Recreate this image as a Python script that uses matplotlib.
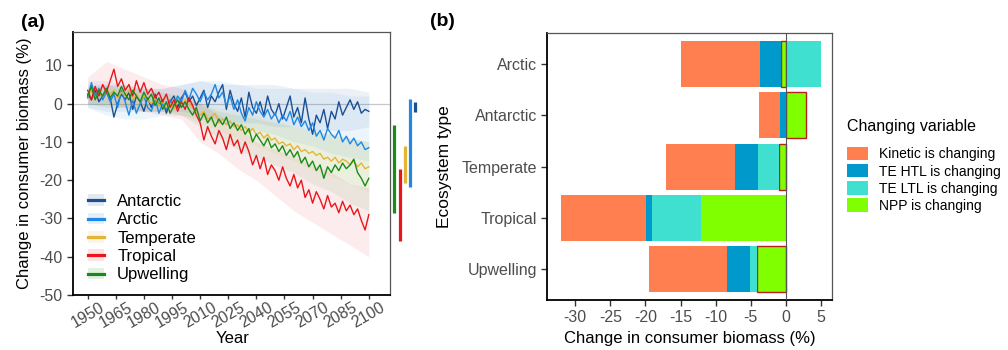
import numpy as np
import matplotlib
matplotlib.use("Agg")
import matplotlib.pyplot as plt
from matplotlib.lines import Line2D
from matplotlib.patches import Patch

plt.rcParams['font.family'] = ['Liberation Sans', 'DejaVu Sans']
plt.rcParams['axes.unicode_minus'] = False

# ---- panel (a) data: yearly series sampled every 2 years, 1950-2100
years = np.arange(1950, 2101, 2)
antarctic = [2.5, 1.0, 3.5, 0.5, 2.0, 4.0, 1.5, -3.5, 0.0, 2.5,
             1.0, 3.0, -1.5, 2.0, 0.5, -2.0, 1.5, -1.0, 2.5, -0.5,
             1.0, -2.5, 0.5, 2.0, -1.0, 1.5, 3.0, 0.5, 2.0, -0.5,
             1.5, 3.5, -1.0, 2.0, 0.5, 3.0, 5.0, -1.5, 3.5, 0.0,
             -2.0, 1.5, -3.5, 3.0, -1.0, -2.5, 0.5, -3.0, 2.0, -1.5,
             -3.0, 0.0, -4.0, -1.0, 2.0, -3.5, -1.0, -5.0, 1.5, -4.0,
             -8.0, -3.0, -5.0, -1.5, -6.5, -2.0, -4.0, 0.5, -3.0, -1.0,
             1.0, -1.5, 0.5, -2.5, -1.5, -2.0]
arctic = [1.5, 5.5, 2.0, 4.0, 1.0, 3.0, 0.5, 2.5, -1.0, 3.5,
          0.5, -3.0, 1.0, -2.5, 0.0, 2.0, -1.0, -2.0, 1.5, -2.5,
          0.0, -1.5, 1.0, -0.5, 2.0, 0.5, 3.5, 1.0, 4.0, 2.5,
          0.5, 3.0, 1.0, 2.5, 5.0, 1.5, 3.0, -0.5, 2.0, -1.5,
          1.0, -2.5, -4.5, -1.0, -3.0, 0.5, -2.0, -3.5, -1.5, -4.0,
          -2.5, -5.0, -3.0, -4.5, -2.0, -5.5, -3.5, -6.0, -4.5, -7.0,
          -5.0, -8.5, -7.0, -9.5, -6.5, -8.0, -9.0, -7.0, -10.0, -8.5,
          -10.5, -9.0, -11.0, -10.0, -12.0, -11.5]
temperate = [2.0, 3.5, 1.5, 3.0, 2.0, 4.0, 2.5, 3.5, 1.5, 3.0,
             2.0, 3.5, 1.0, 2.5, 0.5, 2.0, 1.0, 0.0, 1.5, -0.5,
             0.5, -1.0, 0.0, -1.5, 0.5, -0.5, 1.0, 0.0, -1.0, -2.0,
             -3.0, -2.0, -4.0, -3.5, -2.5, -5.0, -4.0, -5.5, -4.5, -6.0,
             -5.5, -7.0, -6.0, -7.5, -6.5, -8.0, -7.5, -9.0, -8.0, -9.5,
             -9.0, -10.5, -10.0, -11.0, -10.5, -12.0, -11.0, -12.5, -12.0, -13.0,
             -12.5, -13.5, -13.0, -14.5, -14.0, -15.0, -14.0, -15.5, -14.5, -15.0,
             -16.0, -15.0, -16.5, -15.5, -17.0, -16.5]
tropical = [3.5, 1.0, 4.5, 2.0, 5.0, 3.0, 6.0, 9.0, 4.5, 6.5,
            3.5, 5.0, 2.0, 6.0, 3.0, 5.5, 2.5, 4.0, 1.5, 3.0,
            0.5, 2.5, -1.0, 1.0, -2.0, 0.5, -1.5, 1.5, -0.5, -3.0,
            -5.0, -9.5, -6.0, -8.5, -10.5, -7.0, -9.0, -12.0, -8.0, -11.0,
            -9.5, -13.0, -10.0, -12.5, -16.0, -13.5, -17.0, -14.0, -18.5, -16.0,
            -17.5, -20.0, -16.5, -19.5, -21.5, -18.5, -22.0, -20.0, -24.5, -22.5,
            -26.0, -23.0, -25.0, -27.5, -24.0, -27.0, -26.0, -28.5, -25.5, -28.0,
            -26.5, -29.0, -27.5, -30.5, -33.0, -29.0]
upwelling = [2.0, 4.5, 1.0, 3.5, 2.0, 4.0, 1.5, 3.0, 2.0, 4.5,
             2.5, 1.0, 3.5, 2.0, 0.5, 3.0, 1.0, 2.5, -0.5, 1.5,
             -1.5, 0.5, -2.5, -0.5, 1.0, -1.0, 0.5, -1.5, -3.0, -1.0,
             -4.5, -2.5, -5.0, -3.5, -6.0, -4.0, -5.5, -3.5, -6.5, -5.0,
             -7.0, -5.5, -8.0, -6.5, -10.0, -8.0, -9.5, -11.0, -9.0, -11.5,
             -10.5, -12.5, -11.0, -13.5, -12.0, -14.0, -12.5, -15.5, -14.0, -16.5,
             -15.0, -17.5, -16.0, -19.5, -16.5, -18.0, -16.0, -17.5, -15.5, -17.0,
             -16.0, -14.5, -18.0, -19.5, -21.5, -19.5]

# uncertainty ribbons, every 10 years
ribbon_years = np.arange(1950, 2101, 10)
antarctic_lo = [-1, -2, -2, -2, -2, -2, -3, -4, -5, -5, -6, -6, -7, -7, -7, -6]
antarctic_hi = [5, 5, 4, 4, 4, 5, 6, 5, 5, 5, 5, 4, 4, 4, 4, 3]
arctic_lo = [-1, -3, -4, -4, -3, -3, -4, -5, -6, -7, -8, -10, -11, -13, -14, -15]
arctic_hi = [6, 6, 5, 4, 4, 5, 6, 6, 5, 4, 4, 4, 3, 3, 2, 2]
temperate_lo = [0, 0, -1, -2, -2, -3, -5, -7, -9, -11, -13, -15, -17, -19, -21, -23]
temperate_hi = [4, 4, 4, 3, 2, 2, 0, -1, -2, -3, -4, -6, -7, -8, -9, -10]
tropical_lo = [0, 0, -1, -2, -3, -4, -10, -13, -17, -20, -24, -28, -31, -34, -37, -40]
tropical_hi = [7, 11, 9, 7, 5, 4, 0, -3, -6, -10, -12, -14, -16, -18, -21, -22]
upwelling_lo = [0, -1, -1, -2, -2, -3, -6, -9, -12, -14, -16, -18, -21, -23, -26, -28]
upwelling_hi = [4, 5, 5, 4, 3, 2, 0, -2, -3, -4, -5, -6, -7, -8, -9, -10]

# range bars to the right of panel (a)
range_names = ['Upwelling', 'Tropical', 'Temperate', 'Arctic', 'Antarctic']
range_lo = [-28.6, -36.0, -20.6, -21.8, -2.1]
range_hi = [-5.7, -17.1, -11.0, 1.3, 0.5]

# ---- panel (b) data
ecosystems = ['Arctic', 'Antarctic', 'Temperate', 'Tropical', 'Upwelling']
kinetic = [-11.3, -2.95, -9.75, -12.1, -11.15]
te_htl = [-2.95, -0.85, -3.25, -0.85, -3.25]
te_ltl = [4.93, 0.0, -3.05, -7.0, -1.0]
npp = [-0.75, 2.8, -1.0, -12.1, -4.1]
npp_outlined = [True, True, True, False, True]
var_labels = ['Kinetic is changing', 'TE HTL is changing', 'TE LTL is changing', 'NPP is changing']

colors = {'Antarctic': '#1B4F93', 'Arctic': '#1E88E5', 'Temperate': '#E6B435',
          'Tropical': '#E8161B', 'Upwelling': '#1A8A1A'}
var_colors = ['#FF7F50', '#0099CC', '#40E0D0', '#7FFF00']
grey_txt = '#4D4D4D'

fig = plt.figure(figsize=(10.08, 3.5), dpi=100)
ax1 = fig.add_axes([0.0721, 0.157, 0.3148, 0.7524])
ax2 = fig.add_axes([0.543, 0.1429, 0.2821, 0.762])

series = [('Antarctic', antarctic, antarctic_lo, antarctic_hi),
          ('Arctic', arctic, arctic_lo, arctic_hi),
          ('Temperate', temperate, temperate_lo, temperate_hi),
          ('Tropical', tropical, tropical_lo, tropical_hi),
          ('Upwelling', upwelling, upwelling_lo, upwelling_hi)]

ax1.axhline(0, color='#C8C8C8', lw=0.9, zorder=1)
for name, vals, lo, hi in series:
    ax1.fill_between(ribbon_years, lo, hi, color=colors[name], alpha=0.08, lw=0, zorder=2)
for name, vals, lo, hi in series:
    ax1.plot(years, vals, color=colors[name], lw=1.0, zorder=3)

bar_x = [2113.5, 2116.4, 2119.2, 2121.9, 2124.7]
for x, name, lo, hi in zip(bar_x, range_names, range_lo, range_hi):
    ax1.plot([x, x], [lo, hi], color=colors[name], lw=2.3, solid_capstyle='butt', clip_on=False)

ax1.set_xlim(1942, 2111.3)
ax1.set_ylim(-50, 18.8)
ax1.set_xticks(np.arange(1950, 2101, 15))
ax1.set_yticks(np.arange(-50, 11, 10))
ax1.set_xticklabels([str(y) for y in range(1950, 2101, 15)], rotation=30, ha='center')
ax1.set_ylabel('Change in consumer biomass (%)', fontsize=12)
ax1.set_xlabel('Year', fontsize=12)
ax1.yaxis.set_label_coords(-0.129, 0.5)
ax1.xaxis.set_label_coords(0.505, -0.138)

handles = []
for name, vals, lo, hi in series:
    handles.append((Patch(facecolor=colors[name], alpha=0.12, lw=0),
                    Line2D([], [], color=colors[name], lw=2.3)))
ax1.legend(handles, [s[0] for s in series], loc='upper left', bbox_to_anchor=(88 / 1008, 1 - 194 / 350),
           bbox_transform=fig.transFigure, frameon=False, fontsize=12, handlelength=0.95,
           handletextpad=0.8, labelspacing=0.2, borderpad=0, borderaxespad=0)

# ---- panel (b): stacked bars, NPP closest to zero, kinetic outermost
ypos = np.arange(len(ecosystems))[::-1] + 1
comps = [kinetic, te_htl, te_ltl, npp]
pos_base = np.zeros(len(ecosystems))
neg_base = np.zeros(len(ecosystems))
for k in [3, 2, 1, 0]:
    vals = np.array(comps[k])
    left = np.where(vals >= 0, pos_base, neg_base)
    for i in range(len(ecosystems)):
        edge = 'none'
        lw = 0
        if k == 3 and npp_outlined[i]:
            edge = '#B8201A'
            lw = 1.0
        ax2.barh(ypos[i], vals[i], left=left[i], height=0.9, color=var_colors[k],
                 edgecolor=edge, linewidth=lw, zorder=2)
    pos_base = pos_base + np.where(vals >= 0, vals, 0)
    neg_base = neg_base + np.where(vals < 0, vals, 0)

ax2.axvline(0, color='#555555', lw=0.8, zorder=3)
ax2.set_xlim(-33.95, 6.5)
ax2.set_ylim(0.4, 5.6)
ax2.set_xticks(np.arange(-30, 6, 5))
ax2.set_yticks(ypos)
ax2.set_yticklabels(ecosystems)
ax2.set_xlabel('Change in consumer biomass (%)', fontsize=12)
ax2.set_ylabel('Ecosystem type', fontsize=12.5)
ax2.yaxis.set_label_coords(-0.335, 0.5)
ax2.xaxis.set_label_coords(0.5, -0.118)

fig.text(847 / 1008, 1 - 127 / 350, 'Changing variable', fontsize=11.5, va='center', ha='left')
leg_handles = [Patch(facecolor=c, lw=0) for c in var_colors]
ax2.legend(leg_handles, var_labels, loc='upper left',
           bbox_to_anchor=(847 / 1008, 1 - 147 / 350), bbox_transform=fig.transFigure,
           frameon=False, fontsize=10, handlelength=1.5,
           handleheight=1.1, handletextpad=0.8, labelspacing=0.2, borderpad=0,
           borderaxespad=0)

for ax in (ax1, ax2):
    ax.spines['left'].set_color('black')
    ax.spines['bottom'].set_color('black')
    ax.spines['left'].set_linewidth(1.3)
    ax.spines['bottom'].set_linewidth(1.3)
    ax.spines['top'].set_color('#555555')
    ax.spines['right'].set_color('#555555')
    ax.spines['top'].set_linewidth(0.9)
    ax.spines['right'].set_linewidth(0.9)
    ax.tick_params(length=4, width=1, color='#333333', labelcolor=grey_txt, labelsize=11.5)
ax1.tick_params(axis='x', length=2.9, pad=0.5)

fig.text(0.0205, 0.936, '(a)', fontsize=14, fontweight='bold', va='center')
fig.text(0.4266, 0.94, '(b)', fontsize=14, fontweight='bold', va='center')

fig.savefig('out.png', dpi=100)
